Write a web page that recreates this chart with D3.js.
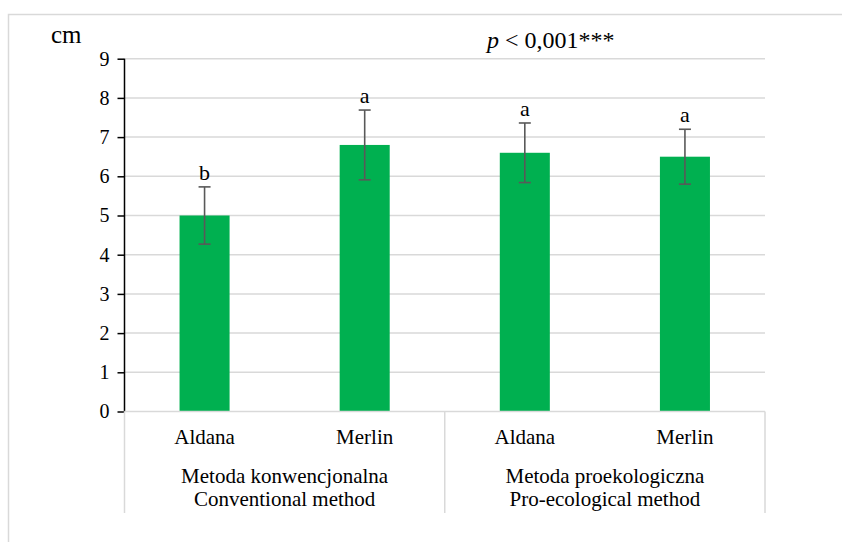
<!DOCTYPE html>
<html>
<head>
<meta charset="utf-8">
<script src="https://cdn.jsdelivr.net/npm/d3@7"></script>
<style>
  body { margin: 0; background: #fff; }
  svg text { font-family: "Liberation Serif", "Times New Roman", serif; fill: #000; }
</style>
</head>
<body>
<svg id="chart" width="842" height="542"></svg>
<script>
// data
var varieties = ["Aldana", "Merlin", "Aldana", "Merlin"];
var groups = [["Metoda konwencjonalna", "Conventional method"], ["Metoda proekologiczna", "Pro-ecological method"]];
var means = [5.0, 6.8, 6.6, 6.5];
var errors = [0.73, 0.89, 0.76, 0.70];
var letters = ["b", "a", "a", "a"];
var yTicks = [0, 1, 2, 3, 4, 5, 6, 7, 8, 9];

var svg = d3.select("#chart");
var plotLeft = 124.5, plotRight = 765, plotTop = 58.7, plotBottom = 411.5;

// outer chart border
svg.append("rect")
  .attr("x", 8.5).attr("y", 14.5)
  .attr("width", 900).attr("height", 600)
  .attr("fill", "none").attr("stroke", "#d9d9d9").attr("stroke-width", 1.5);

var x = d3.scaleBand().domain(d3.range(means.length)).range([plotLeft, plotRight]).paddingInner(0.6875).paddingOuter(0.34375);
var y = d3.scaleLinear().domain([0, 9]).range([plotBottom, plotTop]);

// gridlines
svg.append("g").selectAll("line")
  .data(yTicks.slice(1))
  .enter().append("line")
  .attr("x1", plotLeft).attr("x2", plotRight)
  .attr("y1", function(d) { return y(d); }).attr("y2", function(d) { return y(d); })
  .attr("stroke", "#d9d9d9").attr("stroke-width", 1.5);

// bars
svg.append("g").selectAll("rect")
  .data(means)
  .enter().append("rect")
  .attr("x", function(d, i) { return x(i); })
  .attr("width", x.bandwidth())
  .attr("y", function(d) { return y(d); })
  .attr("height", function(d) { return y(0) - y(d); })
  .attr("fill", "#00b050");

// error bars
var eb = svg.append("g").attr("stroke", "#595959").attr("stroke-width", 1.6);
means.forEach(function(m, i) {
  var cx = x(i) + x.bandwidth() / 2;
  eb.append("line").attr("x1", cx).attr("x2", cx).attr("y1", y(m + errors[i])).attr("y2", y(m - errors[i]));
  eb.append("line").attr("x1", cx - 6).attr("x2", cx + 6).attr("y1", y(m + errors[i])).attr("y2", y(m + errors[i]));
  eb.append("line").attr("x1", cx - 6).attr("x2", cx + 6).attr("y1", y(m - errors[i])).attr("y2", y(m - errors[i]));
});

// significance letters
svg.append("g").selectAll("text")
  .data(letters)
  .enter().append("text")
  .attr("x", function(d, i) { return x(i) + x.bandwidth() / 2; })
  .attr("y", function(d, i) { return y(means[i] + errors[i]) - 7; })
  .attr("text-anchor", "middle")
  .style("font-size", "22px")
  .text(function(d) { return d; });

// y axis
var yAxis = d3.axisLeft(y).tickValues(yTicks).tickSize(7).tickPadding(8).tickFormat(d3.format("d"));
var ga = svg.append("g").attr("transform", "translate(" + plotLeft + ",0)").call(yAxis);
ga.select(".domain").attr("stroke", "#000").attr("stroke-width", 1.5).attr("d", "M0," + plotTop + "V" + plotBottom);
ga.selectAll(".tick line").attr("stroke", "#000").attr("stroke-width", 1.5);
ga.selectAll(".tick text").style("font-size", "20px").style("font-family", "Liberation Serif").attr("fill", "#000");

// category box
var box = svg.append("g").attr("stroke", "#d9d9d9").attr("stroke-width", 1.5);
box.append("line").attr("x1", plotLeft).attr("x2", plotRight).attr("y1", plotBottom).attr("y2", plotBottom);
[plotLeft, (plotLeft + plotRight) / 2, plotRight].forEach(function(v) {
  box.append("line").attr("x1", v).attr("x2", v).attr("y1", plotBottom).attr("y2", 513);
});

svg.append("g").selectAll("text")
  .data(varieties)
  .enter().append("text")
  .attr("x", function(d, i) { return x(i) + x.bandwidth() / 2; })
  .attr("y", 444)
  .attr("text-anchor", "middle")
  .style("font-size", "21px")
  .text(function(d) { return d; });

groups.forEach(function(g, j) {
  var cx = plotLeft + (plotRight - plotLeft) / 4 * (2 * j + 1);
  g.forEach(function(line, k) {
    svg.append("text")
      .attr("x", cx).attr("y", 483 + k * 23)
      .attr("text-anchor", "middle")
      .style("font-size", "21px")
      .text(line);
  });
});

// unit label
svg.append("text").attr("x", 51).attr("y", 43).style("font-size", "25px").text("cm");

// p value
var pt = svg.append("text").attr("x", 487).attr("y", 48).style("font-size", "24px");
pt.append("tspan").style("font-style", "italic").text("p");
pt.append("tspan").text(" < 0,001***");
</script>
</body>
</html>
